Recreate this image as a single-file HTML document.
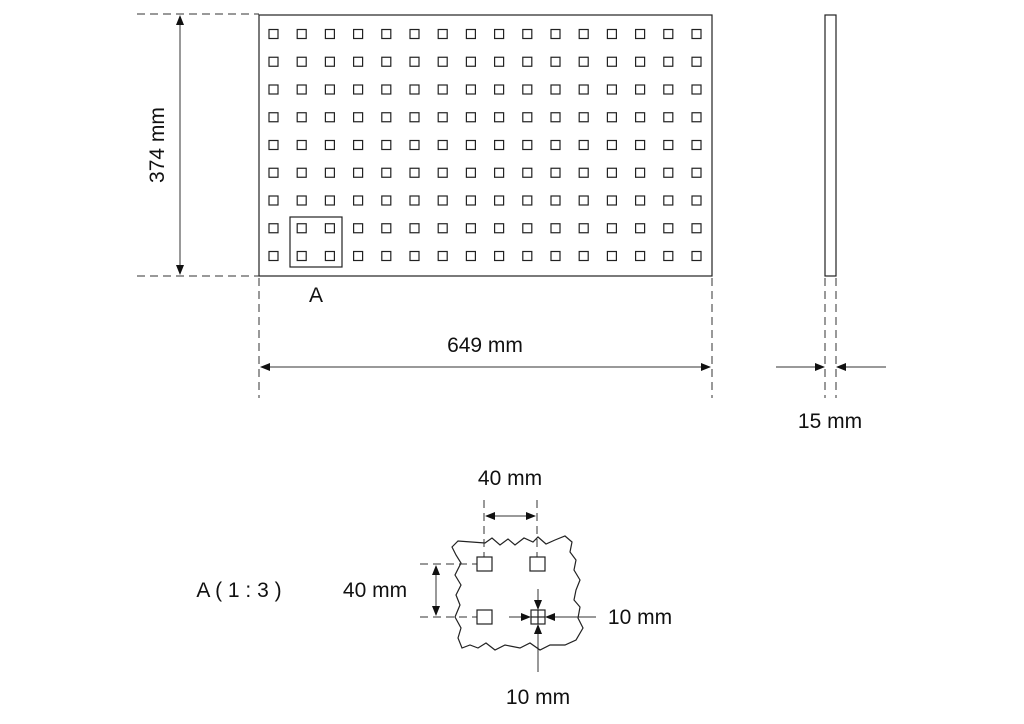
<!DOCTYPE html>
<html><head><meta charset="utf-8"><style>
html,body{margin:0;padding:0;background:#fff;}
svg{display:block;}
text{font-family:"Liberation Sans",sans-serif;font-size:21px;fill:#111;}
</style></head><body>
<svg width="1024" height="724" viewBox="0 0 1024 724" xmlns="http://www.w3.org/2000/svg">
<defs>
<marker id="ar" markerWidth="10" markerHeight="8" refX="9" refY="4" orient="auto" markerUnits="userSpaceOnUse">
<path d="M0,0 L10,4 L0,8 z" fill="#111"/></marker>
<marker id="al" markerWidth="10" markerHeight="8" refX="1" refY="4" orient="auto" markerUnits="userSpaceOnUse">
<path d="M10,0 L0,4 L10,8 z" fill="#111"/></marker>
</defs>
<g stroke="#222" fill="none" stroke-width="1.2">
<rect x="259" y="15" width="453" height="261"/>
<rect x="825" y="15" width="11" height="261"/>
<rect x="290" y="217" width="52" height="50"/>
<g id="grid"></g>
</g>
<g stroke="#333" stroke-width="1" fill="none" stroke-dasharray="8,5">
<line x1="137" y1="14" x2="259" y2="14"/>
<line x1="137" y1="276" x2="259" y2="276"/>
<line x1="259" y1="278" x2="259" y2="398"/>
<line x1="712" y1="278" x2="712" y2="398"/>
<line x1="825" y1="278" x2="825" y2="398"/>
<line x1="836" y1="278" x2="836" y2="398"/>
<line x1="484" y1="500" x2="484" y2="557"/>
<line x1="537" y1="500" x2="537" y2="557"/>
<line x1="420" y1="564" x2="477" y2="564"/>
<line x1="420" y1="617" x2="477" y2="617"/>
</g>
<g stroke="#333" stroke-width="1" fill="none">
<line x1="180" y1="16" x2="180" y2="274" marker-start="url(#al)" marker-end="url(#ar)"/>
<line x1="261" y1="367" x2="710" y2="367" marker-start="url(#al)" marker-end="url(#ar)"/>
<line x1="776" y1="367" x2="824" y2="367" marker-end="url(#ar)"/>
<line x1="886" y1="367" x2="837" y2="367" marker-end="url(#ar)"/>
<line x1="486" y1="516" x2="535" y2="516" marker-start="url(#al)" marker-end="url(#ar)"/>
<line x1="436" y1="566" x2="436" y2="615" marker-start="url(#al)" marker-end="url(#ar)"/>
<line x1="509" y1="617" x2="530" y2="617" marker-end="url(#ar)"/>
<line x1="596" y1="617" x2="546" y2="617" marker-end="url(#ar)"/>
<line x1="538" y1="589" x2="538" y2="609" marker-end="url(#ar)"/>
<line x1="538" y1="672" x2="538" y2="625" marker-end="url(#ar)"/>
</g>
<g stroke="#222" stroke-width="1.2" fill="none">
<polygon points="452,547 458,541 485,543 492,538 500,545 508,539 515,545 524,538 533,542 538,537 546,544 555,540 565,536 572,542 570,552 576,560 574,570 580,580 576,590 574,600 580,607 578,618 583,628 576,640 565,645 550,645 540,650 530,643 520,648 505,645 495,650 486,643 478,648 470,645 462,648 458,638 461,628 455,617 460,605 456,595 461,585 455,575 461,563 456,555"/>
<rect x="477" y="557" width="15" height="14" fill="#fff"/>
<rect x="530" y="557" width="15" height="14" fill="#fff"/>
<rect x="477" y="610" width="15" height="14" fill="#fff"/>
<rect x="531" y="610" width="14" height="14" fill="#fff"/>
<line x1="538" y1="610" x2="538" y2="624"/>
<line x1="531" y1="617" x2="545" y2="617"/>
</g>
<text x="164" y="145" text-anchor="middle" transform="rotate(-90 164 145)">374 mm</text>
<text x="485" y="352" text-anchor="middle">649 mm</text>
<text x="316" y="302" text-anchor="middle">A</text>
<text x="830" y="428" text-anchor="middle">15 mm</text>
<text x="510" y="485" text-anchor="middle">40 mm</text>
<text x="375" y="597" text-anchor="middle">40 mm</text>
<text x="239" y="597" text-anchor="middle">A ( 1 : 3 )</text>
<text x="640" y="624" text-anchor="middle">10 mm</text>
<text x="538" y="704" text-anchor="middle">10 mm</text>
</svg>
<script>
var g=document.getElementById('grid'),s='';
for(var r=0;r<9;r++)for(var c=0;c<16;c++){
var cx=273.5+c*28.2,cy=34+r*27.75;
s+='<rect x="'+(cx-4.5)+'" y="'+(cy-4.5)+'" width="9" height="9"/>';}
g.innerHTML=s;
</script>
</body></html>
